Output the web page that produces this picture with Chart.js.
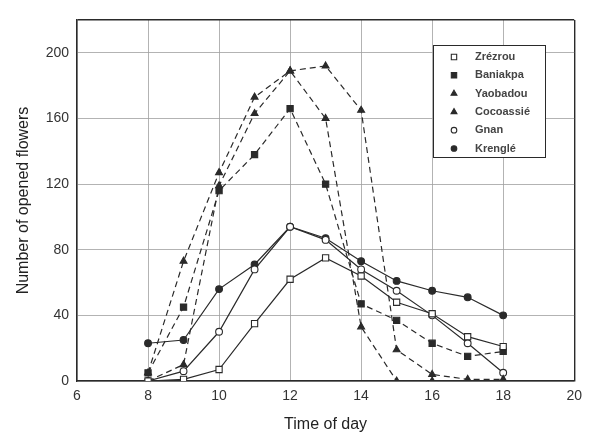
<!DOCTYPE html>
<html>
<head>
<meta charset="utf-8">
<script src="https://cdn.jsdelivr.net/npm/chart.js@4.4.1/dist/chart.umd.min.js"></script>
<style>
  html, body { margin: 0; padding: 0; background: #fff; }
  #wrap { width: 589px; height: 434px; position: relative; }
</style>
</head>
<body>
<div id="wrap"><canvas id="chart"></canvas></div>
<script>
// hours of the day (x)
const hours = [8, 9, 10, 11, 12, 13, 14, 15, 16, 17, 18];

// number of opened flowers per cultivar
const zrezrou   = [0, 1, 7, 35, 62, 75, 64, 48, 41, 27, 21];
const baniakpa  = [5, 45, 116, 138, 166, 120, 47, 37, 23, 15, 18];
const yaobadou  = [5, 73, 127, 173, 189, 192, 165, 19, 4, 1, 1];
const cocoassie = [0, 10, 119, 163, 189, 160, 33, 0, 0, 0, 0];
const gnan      = [0, 6, 30, 68, 94, 86, 68, 55, 40, 23, 5];
const krengle   = [23, 25, 56, 71, 94, 87, 73, 61, 55, 51, 40];

const seriesNames = ['Zrézrou', 'Baniakpa', 'Yaobadou', 'Cocoassié', 'Gnan', 'Krenglé'];
const xTicks = [6, 8, 10, 12, 14, 16, 18, 20];
const yTicks = [0, 40, 80, 120, 160, 200];

const ink = '#2a2a2a';
const font = '"Liberation Sans", Arial, sans-serif';

function pts(vals){ return hours.map((h, i) => ({x: h, y: vals[i]})); }

function markerSize(style){
  return style === 'rect' ? 4.4 : style === 'triangle' ? 4 : 3.4;
}

function ds(label, vals, style, filled, dashed){
  return {
    label,
    data: pts(vals),
    borderColor: ink,
    borderWidth: 1.2,
    borderDash: dashed ? [6, 4] : [],
    pointStyle: style,
    pointRadius: markerSize(style),
    pointBorderWidth: 1.1,
    pointBorderColor: ink,
    pointBackgroundColor: filled ? ink : '#fff',
    fill: false,
    tension: 0
  };
}

const datasets = [
  ds(seriesNames[0], zrezrou, 'rect', false, false),
  ds(seriesNames[1], baniakpa, 'rect', true, true),
  ds(seriesNames[2], yaobadou, 'triangle', true, true),
  ds(seriesNames[3], cocoassie, 'triangle', true, true),
  ds(seriesNames[4], gnan, 'circle', false, false),
  ds(seriesNames[5], krengle, 'circle', true, false)
];

// legend box drawn inside the plot, like the original figure
const boxLegend = {
  id: 'boxLegend',
  afterDraw(chart){
    const ctx = chart.ctx;
    const x0 = 433, y0 = 45, w = 112, h = 112;
    ctx.save();
    ctx.fillStyle = '#fff';
    ctx.fillRect(x0, y0, w, h);
    ctx.strokeStyle = ink;
    ctx.lineWidth = 1;
    ctx.strokeRect(x0 + 0.5, y0 + 0.5, w, h);
    ctx.font = 'bold 11px ' + font;
    ctx.textBaseline = 'middle';
    chart.data.datasets.forEach((d, i) => {
      const cy = y0 + 12 + i * 18.3;
      ctx.fillStyle = d.pointBackgroundColor;
      ctx.strokeStyle = ink;
      ctx.lineWidth = 1.1;
      Chart.helpers.drawPoint(ctx, {
        pointStyle: d.pointStyle,
        radius: markerSize(d.pointStyle) - 0.6,
        borderWidth: 1.1,
        rotation: 0
      }, 454, cy);
      ctx.fillStyle = '#444';
      ctx.fillText(d.label, 475, cy);
    });
    ctx.restore();
  }
};

new Chart(document.getElementById('chart'), {
  type: 'line',
  data: { datasets },
  plugins: [boxLegend],
  options: {
    responsive: true,
    maintainAspectRatio: false,
    animation: false,
    layout: { padding: { top: 20, right: 11, left: 0, bottom: 0 } },
    plugins: { legend: { display: false }, tooltip: { enabled: false } },
    scales: {
      x: {
        type: 'linear',
        min: 6, max: 20,
        afterFit: s => { s.height = 53; },
        afterBuildTicks: s => { s.ticks = xTicks.map(v => ({value: v})); },
        grid: {
          color: c => (c.tick.value === 6 || c.tick.value === 20) ? ink : '#a0a0a0',
          lineWidth: c => (c.tick.value === 6 || c.tick.value === 20) ? 1.4 : 0.8,
          drawTicks: false
        },
        border: { color: ink, width: 1.6 },
        ticks: { color: '#333', padding: 7, font: { size: 14, family: font } },
        title: { display: true, text: 'Time of day', color: '#222', padding: { top: 4, bottom: 0 },
                 font: { size: 16, family: font } }
      },
      y: {
        min: 0, max: 220,
        afterFit: s => { s.width = 77; },
        afterBuildTicks: s => { s.ticks = yTicks.concat([220]).map(v => ({value: v})); },
        grid: {
          color: c => c.tick.value === 220 ? ink : '#a0a0a0',
          lineWidth: c => c.tick.value === 220 ? 1.6 : 0.8,
          drawTicks: false
        },
        border: { color: ink, width: 1.4 },
        ticks: {
          color: '#333', padding: 8,
          font: { size: 14, family: font },
          callback: v => v === 220 ? '' : v
        },
        title: { display: true, text: 'Number of opened flowers', color: '#222', padding: { top: 14, bottom: 0 },
                 font: { size: 16, family: font } }
      }
    }
  }
});
</script>
</body>
</html>
